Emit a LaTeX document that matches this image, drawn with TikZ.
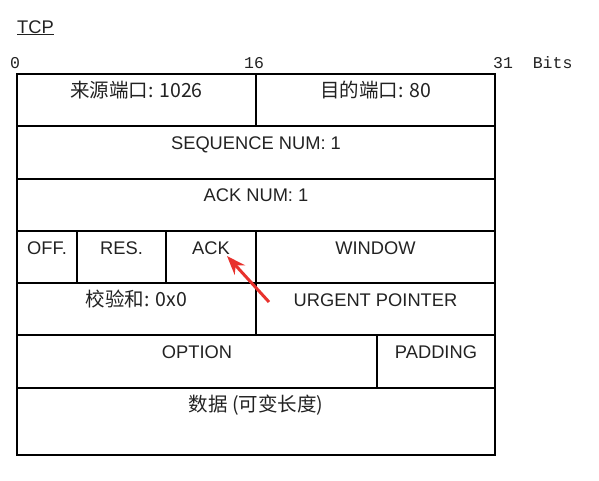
\documentclass[tikz,border=0pt]{standalone}
\usepackage{fontspec}
\setmainfont{Liberation Sans}
\setmonofont{Liberation Mono}
\newfontfamily\cjk{Noto Sans CJK SC}
\usetikzlibrary{arrows.meta}
\definecolor{arrowred}{HTML}{E8322D}
\definecolor{inkgray}{HTML}{222222}
\begin{document}
\begin{tikzpicture}[x=1pt,y=-1pt,
  cell/.style={line width=2pt, line cap=rect},
  lbl/.style={anchor=base, inner sep=0pt, text=inkgray, font=\fontsize{18.3}{18.3}\selectfont},
  clbl/.style={anchor=base, inner sep=0pt, text=inkgray, font=\cjk\fontsize{19.5}{19.5}\selectfont},
  ruler/.style={anchor=base west, inner sep=0pt, text=inkgray, font=\ttfamily\fontsize{16.5}{16.5}\selectfont},
  pointer/.style={arrowred, line width=3pt, -{Stealth[length=19pt,width=14pt]}}]
\path[use as bounding box] (0,0) rectangle (599,480);
% title and ruler
\node[anchor=base west, inner sep=0pt, text=inkgray, font=\fontsize{18.3}{18.3}\selectfont] (title) at (17,33) {\underline{TCP}};
\node[ruler] (r0) at (10,68) {0};
\node[ruler] (r16) at (244,68) {16};
\node[ruler] (r31) at (493,68) {31\ \ Bits};
% table grid
\draw[cell] (17,74) rectangle (495,455);
\foreach \yy in {126,179,231,283,335,388} \draw[cell] (17,\yy) -- (495,\yy);
\draw[cell] (256,74) -- (256,126);
\draw[cell] (77,231) -- (77,283);
\draw[cell] (166,231) -- (166,283);
\draw[cell] (256,231) -- (256,335);
\draw[cell] (377,335) -- (377,388);
% labels
\node[clbl] (src) at (136.5,97) {来源端口: 1026};
\node[clbl] (dst) at (375.5,97) {目的端口: 80};
\node[lbl] (seq) at (256,149) {SEQUENCE NUM: 1};
\node[lbl] (acknum) at (256,201) {ACK NUM: 1};
\node[lbl] (off) at (47,254) {OFF.};
\node[lbl] (res) at (121.5,254) {RES.};
\node[lbl] (ack) at (211,254) {ACK};
\node[lbl] (win) at (375.5,254) {WINDOW};
\node[clbl] (chk) at (136.5,306) {校验和: 0x0};
\node[lbl] (urg) at (375.5,306) {URGENT POINTER};
\node[lbl] (opt) at (197,358) {OPTION};
\node[lbl] (pad) at (436,358) {PADDING};
\node[clbl] (data) at (256,411) {数据 (可变长度)};
% pointer arrow
\coordinate (tail) at (269,302);
\coordinate (tip) at (227,256);
\draw[pointer] (tail) -- (tip);
\end{tikzpicture}
\end{document}
